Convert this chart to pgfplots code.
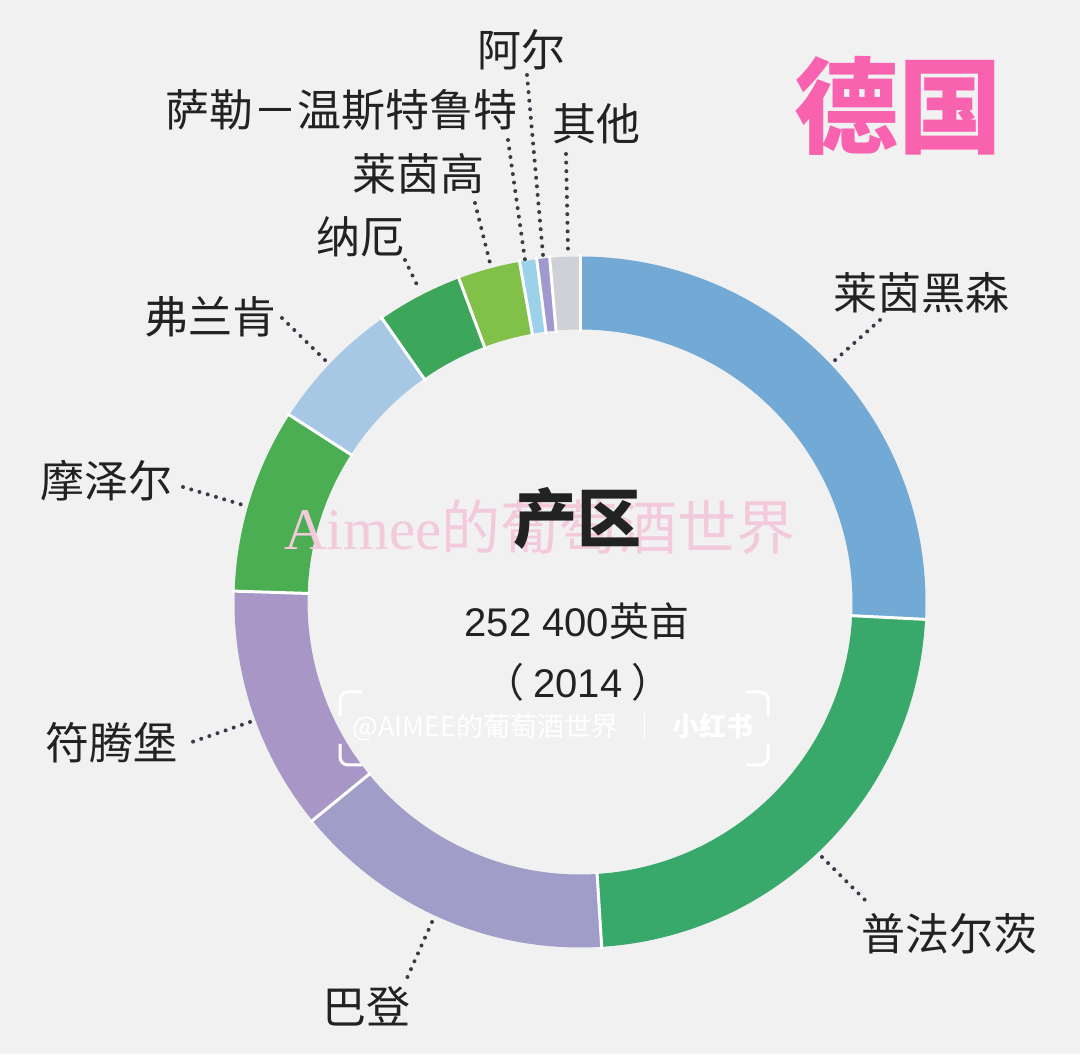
\documentclass[border=0pt]{standalone}
\usepackage{pgfplots}
\pgfplotsset{compat=1.18}
\usepackage{fontspec}
\newfontfamily\cjk{Noto Sans CJK SC}
\newfontfamily\wmserif{Liberation Serif}
\newfontfamily\lsans{Liberation Sans}
\definecolor{bg}{HTML}{F1F1F1}
\definecolor{rhh}{HTML}{72AAD5}
\definecolor{pfz}{HTML}{38A96A}
\definecolor{bad}{HTML}{A19DC9}
\definecolor{wue}{HTML}{A796C6}
\definecolor{mos}{HTML}{4BAE52}
\definecolor{fra}{HTML}{A6C8E4}
\definecolor{nah}{HTML}{3CA65B}
\definecolor{rhg}{HTML}{82C149}
\definecolor{sau}{HTML}{9CD1EA}
\definecolor{ahr}{HTML}{A099D0}
\definecolor{oth}{HTML}{D0D1D6}
\definecolor{txt}{HTML}{222222}
\definecolor{lead}{HTML}{3A3A4A}
\definecolor{pinkt}{HTML}{F862AE}
\definecolor{wmpink}{HTML}{F3CADC}
\begin{document}
\begin{tikzpicture}
\begin{axis}[x=0.5pt,y=0.5pt,xmin=0,xmax=1080,ymin=0,ymax=1054,
  scale only axis,hide axis,clip=false]
\fill[bg] (0,0) rectangle (1080,1054);
% donut slices: share in percent, clockwise from 12 o'clock
\gdef\cum{0}
\foreach \v/\c in {25.8/rhh,23.2/pfz,15.1/bad,11.4/wue,8.6/mos,6.2/fra,4.0/nah,2.9/rhg,0.8/sau,0.6/ahr,1.4/oth}{
  \pgfmathsetmacro\a{\cum*3.6}
  \pgfmathsetmacro\b{(\cum+\v)*3.6}
  \edef\tmp{\noexpand\addplot[draw=\c,line width=36.5pt,line cap=butt,line join=round,domain=\a:\b,samples=90] ({580+309*sin(x)},{452+309*cos(x)});}
  \tmp
  \pgfmathsetmacro\n{\cum+\v}
  \xdef\cum{\n}
}
% white separators
\gdef\cum{0}
\foreach \v in {25.8,23.2,15.1,11.4,8.6,6.2,4.0,2.9,0.8,0.6,1.4}{
  \pgfmathsetmacro\a{\cum*3.6}
  \pgfmathsetmacro\xi{580+270*sin(\a)}
  \pgfmathsetmacro\yi{452+270*cos(\a)}
  \pgfmathsetmacro\xo{580+348*sin(\a)}
  \pgfmathsetmacro\yo{452+348*cos(\a)}
  \edef\tmp{\noexpand\addplot[draw=white,line width=1.5pt] coordinates {(\xi,\yi) (\xo,\yo)};}
  \tmp
  \pgfmathsetmacro\n{\cum+\v}
  \xdef\cum{\n}
}
% leader lines
\tikzset{ld/.style={draw=lead,line width=2pt,line cap=round,dash pattern=on 0pt off 4.3pt}}
\draw[ld] (880,734) -- (833,692);
\draw[ld] (822,197) -- (867,152);
\draw[ld] (432,132) -- (407,76);
\draw[ld] (250,332) -- (192,312);
\draw[ld] (183,567) -- (243,549);
\draw[ld] (282,736) -- (327,692);
\draw[ld] (405,794) -- (418,767);
\draw[ld] (475,851) -- (490,791);
\draw[ld] (508,914) -- (525,794);
\draw[ld] (527,979) -- (543,799);
\draw[ld] (566,900) -- (568,804);
% labels
\tikzset{lb/.style={font=\cjk\fontsize{22}{24}\selectfont,text=txt,inner sep=0pt,anchor=center}}
\node[lb] at (921,761) {莱茵黑森};
\node[lb] at (949,120) {普法尔茨};
\node[lb] at (366,48) {巴登};
\node[lb] at (111,311) {符腾堡};
\node[lb] at (106,573) {摩泽尔};
\node[lb] at (210,737) {弗兰肯};
\node[lb] at (360,817) {纳厄};
\node[lb] at (418,880) {莱茵高};
\node[lb] at (341,944) {萨勒－温斯特鲁特};
\node[lb] at (521,1004) {阿尔};
\node[lb] at (596,930) {其他};
% title
\node[font=\cjk\bfseries\fontsize{52}{56}\selectfont,text=pinkt,inner sep=0pt] at (898,948) {德国};
% watermark
\node[font=\fontsize{29.5}{32}\selectfont,text=wmpink,inner sep=0pt] at (540,527) {\wmserif Aimee\cjk 的葡萄酒世界};
% centre text
\node[font=\cjk\bfseries\fontsize{32}{36}\selectfont,text=txt,inner sep=0pt] at (577,536) {产区};
\node[font=\cjk\fontsize{20}{22}\selectfont,text=txt,inner sep=0pt] at (577,433) {{\lsans 252 400}英亩};
\node[font=\cjk\fontsize{20}{22}\selectfont,text=txt,inner sep=0pt] at (578,372) {（ {\lsans 2014} ）};
% white watermark
\node[font=\cjk\fontsize{13.5}{15}\selectfont,text=white,inner sep=0pt] at (553,327) {@AIMEE的葡萄酒世界\enspace｜\enspace\textbf{小红书}};
\draw[white,line width=1.5pt,rounded corners=4pt] (340,338) -- (340,362) -- (362,362);
\draw[white,line width=1.5pt,rounded corners=4pt] (746,362) -- (768,362) -- (768,338);
\draw[white,line width=1.5pt,rounded corners=4pt] (340,310) -- (340,289) -- (362,289);
\draw[white,line width=1.5pt,rounded corners=4pt] (746,289) -- (768,289) -- (768,310);
\end{axis}
\end{tikzpicture}
\end{document}
